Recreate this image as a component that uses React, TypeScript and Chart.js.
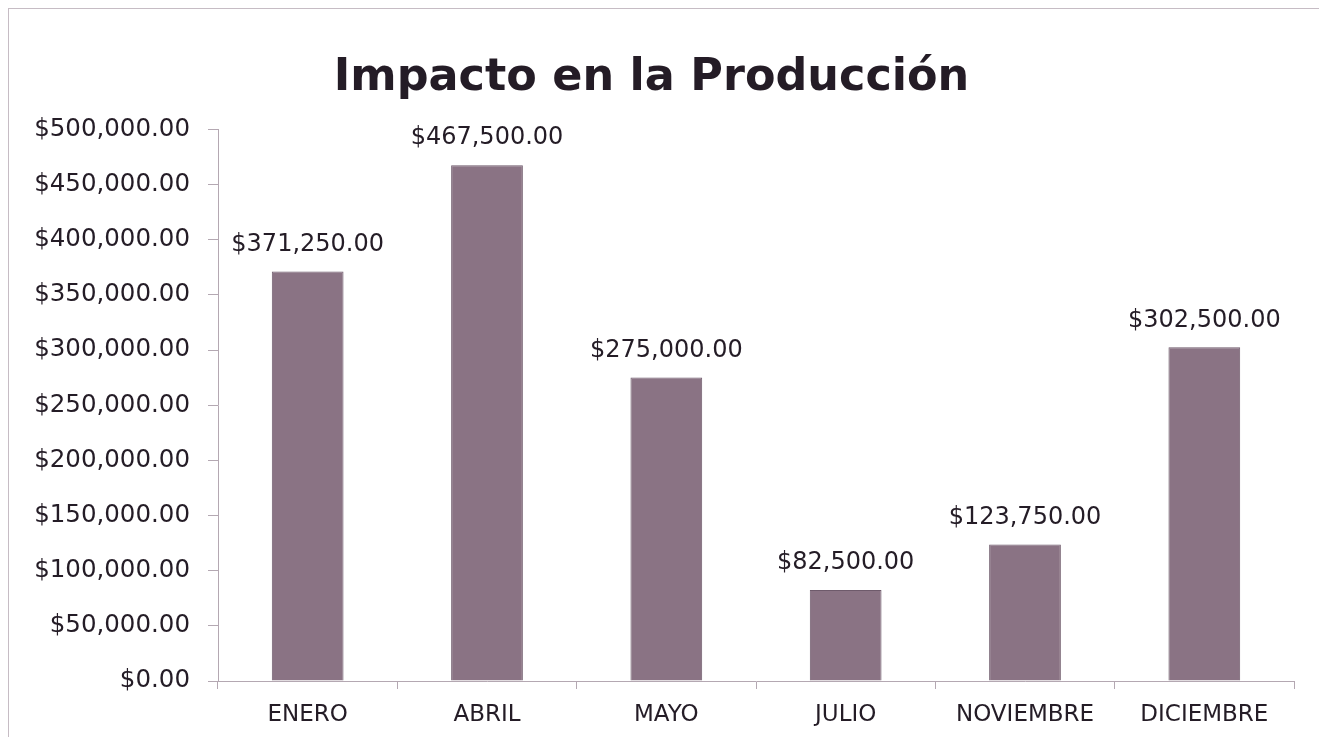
import React, { useEffect, useRef } from "react";
import { Chart, registerables } from "chart.js";

Chart.register(...registerables);

const categories: string[] = ["ENERO", "ABRIL", "MAYO", "JULIO", "NOVIEMBRE", "DICIEMBRE"];
const values: number[] = [371250, 467500, 275000, 82500, 123750, 302500];
const yMin = 0;
const yMax = 500000;
const yStep = 50000;
const titleText = "Impacto en la Producción";

const FONT = "'DejaVu Sans', 'Open Sans', sans-serif";
const TEXT = "#241c26";

const fmt = (v: number) =>
  "$" + v.toLocaleString("en-US", { minimumFractionDigits: 2, maximumFractionDigits: 2 });

const dataLabelPlugin = {
  id: "dataLabels",
  afterDatasetsDraw(chart: any) {
    const ctx = chart.ctx;
    const meta = chart.getDatasetMeta(0);
    ctx.save();
    ctx.font = `24px ${FONT}`;
    ctx.fillStyle = TEXT;
    ctx.textAlign = "center";
    ctx.textBaseline = "middle";
    meta.data.forEach((bar: any, i: number) => {
      ctx.fillText(fmt(values[i]), bar.x, bar.y - 27);
    });
    ctx.restore();
  },
};

export default function App() {
  const ref = useRef<HTMLCanvasElement | null>(null);
  useEffect(() => {
    if (!ref.current) return;
    const chart = new Chart(ref.current, {
      type: "bar",
      data: {
        labels: categories,
        datasets: [
          {
            data: values,
            backgroundColor: "#8a7384",
            borderColor: "#6e5a6b",
            borderWidth: 1,
            barPercentage: 0.8,
            categoryPercentage: 0.5,
          },
        ],
      },
      options: {
        animation: false,
        responsive: false,
        maintainAspectRatio: false,
        layout: { padding: { left: 0, right: 30, top: 0, bottom: 0 } },
        plugins: {
          legend: { display: false },
          tooltip: { enabled: false },
          title: {
            display: true,
            text: titleText,
            color: TEXT,
            font: { family: FONT, size: 44.5, weight: "bold", lineHeight: 1.2 },
            padding: { top: 43, bottom: 24 },
          },
        },
        scales: {
          x: {
            grid: {
              offset: true,
              drawOnChartArea: false,
              drawTicks: true,
              tickLength: 8,
              color: "#b4a8b2",
            },
            border: { display: true, color: "#b4a8b2", width: 1 },
            ticks: {
              color: TEXT,
              font: { family: FONT, size: 23 },
              padding: 12,
              maxRotation: 0,
              autoSkip: false,
            },
            afterFit(scale: any) {
              scale.height = 56;
            },
          },
          y: {
            min: yMin,
            max: yMax,
            grid: {
              drawOnChartArea: false,
              drawTicks: true,
              tickLength: 10,
              color: "#b4a8b2",
            },
            border: { display: true, color: "#b4a8b2", width: 1 },
            ticks: {
              stepSize: yStep,
              color: TEXT,
              font: { family: FONT, size: 24.5 },
              padding: 18,
              callback: (v: any) => fmt(Number(v)),
            },
            afterFit(scale: any) {
              scale.width = 209;
            },
          },
        },
      },
      plugins: [dataLabelPlugin],
    });
    return () => chart.destroy();
  }, []);

  return (
    <div
      style={{
        width: 1317,
        height: 729,
        boxSizing: "border-box",
        borderLeft: "1px solid #c6bcc4",
        borderTop: "1px solid #c6bcc4",
        borderRight: "1px solid #c6bcc4",
        background: "#ffffff",
      }}
    >
      <canvas ref={ref} width={1315} height={728} style={{ display: "block" }} />
    </div>
  );
}
